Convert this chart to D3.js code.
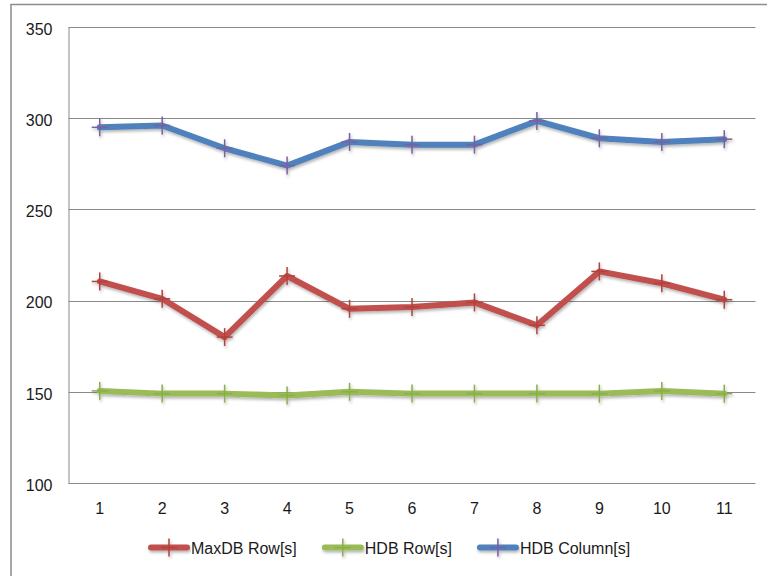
<!DOCTYPE html>
<html>
<head>
<meta charset="utf-8">
<script src="https://cdn.jsdelivr.net/npm/d3@7/dist/d3.min.js"></script>
<style>
  html, body { margin: 0; padding: 0; background: #fff; }
  svg { display: block; font-family: "Liberation Sans", Arial, sans-serif; }
</style>
</head>
<body>
<svg id="chart" width="767" height="576"></svg>
<script>
// Run index (x axis)
const categories = ["1", "2", "3", "4", "5", "6", "7", "8", "9", "10", "11"];

// Timings per run, in seconds
const maxdbRow  = [210.5, 201, 180, 213.5, 195.5, 196.5, 199, 186.5, 216, 209.5, 200.5];
const hdbRow    = [150.5, 149, 149, 148, 150, 149, 149, 149, 149, 150.5, 149];
const hdbColumn = [295, 296, 283.5, 274, 287, 285.5, 285.5, 298.5, 289, 287, 288.5];

const yTicks = [100, 150, 200, 250, 300, 350];

const seriesNames  = ["MaxDB Row[s]", "HDB Row[s]", "HDB Column[s]"];
const seriesValues = [maxdbRow, hdbRow, hdbColumn];
const lineColors   = ["#C0504D", "#9BBB59", "#4F81BD"];
const markerColors = ["#B2403D", "#8AAE48", "#7D5E9E"];

const svg = d3.select("#chart");

// drop shadow under the series lines
const defs = svg.append("defs");
const f = defs.append("filter").attr("id", "shadow")
  .attr("x", "-10%").attr("y", "-50%").attr("width", "120%").attr("height", "200%");
f.append("feDropShadow").attr("dx", 1).attr("dy", 2).attr("stdDeviation", 1.6)
  .attr("flood-color", "#000").attr("flood-opacity", 0.3);

// outer chart frame
svg.append("rect").attr("x", 11).attr("y", 4.5).attr("width", 800).attr("height", 600)
  .attr("fill", "none").attr("stroke", "#8c8c8c").attr("stroke-width", 1.5);

const plot = { left: 68.5, right: 755.5, top: 27, bottom: 483 };

const x = d3.scaleBand().domain(categories).range([plot.left, plot.right]);
const y = d3.scaleLinear().domain([100, 350]).range([plot.bottom, plot.top]);

// horizontal gridlines
svg.append("g").selectAll("line").data(yTicks).join("line")
  .attr("x1", plot.left).attr("x2", plot.right)
  .attr("y1", d => Math.round(y(d)) + 0.5).attr("y2", d => Math.round(y(d)) + 0.5)
  .attr("stroke", "#8a8a8a").attr("stroke-width", 1);

// y axis
const yAxis = svg.append("g").attr("transform", `translate(${plot.left},0)`)
  .call(d3.axisLeft(y).tickValues(yTicks).tickSize(0).tickPadding(16).tickFormat(d3.format("d")));
yAxis.select(".domain").attr("stroke", "#8a8a8a").attr("stroke-width", 1);
yAxis.selectAll("text").attr("font-size", 16).attr("fill", "#1a1a1a")
  .attr("font-family", "Liberation Sans, Arial, sans-serif").attr("dy", "0.45em");

// x axis
const xAxis = svg.append("g").attr("transform", `translate(0,${plot.bottom})`)
  .call(d3.axisBottom(x).tickSize(0).tickPadding(20));
xAxis.select(".domain").remove();
xAxis.selectAll("text").attr("font-size", 16).attr("fill", "#1a1a1a")
  .attr("font-family", "Liberation Sans, Arial, sans-serif");

const cx = d => x(d) + x.bandwidth() / 2;

function drawCross(g, px, py, color) {
  g.append("line").attr("x1", px - 8).attr("x2", px + 8).attr("y1", py).attr("y2", py)
    .attr("stroke", color).attr("stroke-width", 1.5);
  g.append("line").attr("x1", px).attr("x2", px).attr("y1", py - 9).attr("y2", py + 9)
    .attr("stroke", color).attr("stroke-width", 1.5);
}

const line = d3.line().x((d, i) => cx(categories[i])).y(d => y(d));

seriesValues.forEach((vals, s) => {
  const g = svg.append("g").attr("filter", "url(#shadow)");
  g.append("path").datum(vals).attr("d", line)
    .attr("fill", "none").attr("stroke", lineColors[s]).attr("stroke-width", 6)
    .attr("stroke-linejoin", "round").attr("stroke-linecap", "round");
  vals.forEach((v, i) => drawCross(g, cx(categories[i]), y(v), markerColors[s]));
});

// legend
const legend = svg.append("g");
let lx = 148;
const ly = 547.5;
seriesNames.forEach((name, s) => {
  const g = legend.append("g").attr("filter", "url(#shadow)");
  g.append("line").attr("x1", lx + 3).attr("x2", lx + 39).attr("y1", ly).attr("y2", ly)
    .attr("stroke", lineColors[s]).attr("stroke-width", 6).attr("stroke-linecap", "round");
  drawCross(g, lx + 21, ly, markerColors[s]);
  const t = legend.append("text").attr("x", lx + 43).attr("y", ly + 6)
    .attr("font-size", 16).attr("fill", "#1a1a1a").text(name);
  lx += 43 + t.node().getComputedTextLength() + 25;
});
</script>
</body>
</html>
